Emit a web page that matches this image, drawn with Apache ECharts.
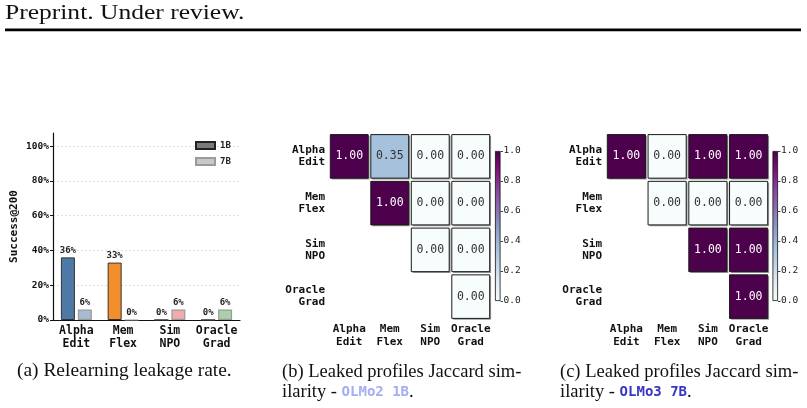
<!DOCTYPE html>
<html><head><meta charset="utf-8">
<script src="https://cdn.jsdelivr.net/npm/echarts@6/dist/echarts.min.js"></script>
<style>html,body{margin:0;padding:0;background:#fff}#c{width:807px;height:408px}</style>
</head><body><div id="c"></div>
<script>
// ---------- data ----------
const barCategories = ['Alpha\nEdit', 'Mem\nFlex', 'Sim\nNPO', 'Oracle\nGrad'];
const success1B = [36, 33, 0, 0];
const success7B = [6, 0, 6, 6];
const colors1B = ['#4e79a7', '#f28e2b', '#e15759', '#59a14f'];
const colors7B = ['#a7bcd3', '#f8c69b', '#f0abac', '#acd0a7'];
const yTicks = [0, 20, 40, 60, 80, 100];
const methods = ['Alpha\nEdit', 'Mem\nFlex', 'Sim\nNPO', 'Oracle\nGrad'];
const jaccardOLMo2_1B = [
  [1.00, 0.35, 0.00, 0.00],
  [null, 1.00, 0.00, 0.00],
  [null, null, 0.00, 0.00],
  [null, null, null, 0.00]
];
const jaccardOLMo3_7B = [
  [1.00, 0.00, 1.00, 1.00],
  [null, 0.00, 0.00, 0.00],
  [null, null, 1.00, 1.00],
  [null, null, null, 1.00]
];
const colorbarTicks = [0, 0.2, 0.4, 0.6, 0.8, 1.0];
const buPu = ['#f7fcfd', '#e0ecf4', '#bfd3e6', '#9ebcda', '#8c96c6', '#8c6bb1', '#88419d', '#810f7c', '#4d004b'];

// ---------- helpers ----------
const MONO = '"DejaVu Sans Mono", monospace';
const SERIF = '"Liberation Serif", "DejaVu Serif", serif';
function toCells(matrix) {
  const out = [];
  matrix.forEach((row, r) => row.forEach((v, c) => { if (v !== null) out.push([c, r, v]); }));
  return out;
}
function cellRender(params, api) {
  const v = api.value(2);
  const c = api.coord([api.value(0), api.value(1)]);
  const s = api.size([1, 1]);
  const w = s[0] - 2.6, h = s[1] - 3.2;
  const x0 = c[0] - w / 2, y0 = c[1] - h / 2;
  return {
    type: 'group',
    children: [
      { type: 'rect', shape: { x: x0 + 1.4, y: y0 + 1.4, width: w, height: h }, style: { fill: '#9a9a9a' } },
      { type: 'rect', shape: { x: x0, y: y0, width: w, height: h }, style: { fill: api.visual('color'), stroke: '#1a1a1a', lineWidth: 1 } },
      { type: 'text', style: { x: c[0], y: c[1], text: v.toFixed(2), align: 'center', verticalAlign: 'middle',
          fill: v > 0.5 ? '#ffffff' : '#333333', font: '11.5px ' + MONO } }
    ]
  };
}
const axisText = { fontFamily: MONO, fontWeight: 'bold', color: '#111' };
function heatAxes(gridIndex) {
  return {
    x: { type: 'category', gridIndex, data: methods, position: 'bottom',
      axisLine: { show: false }, axisTick: { show: false }, splitLine: { show: false },
      axisLabel: Object.assign({ fontSize: 11, lineHeight: 13, margin: 3, interval: 0 }, axisText) },
    y: { type: 'category', gridIndex, data: methods, inverse: true,
      axisLine: { show: false }, axisTick: { show: false }, splitLine: { show: false },
      axisLabel: Object.assign({ fontSize: 11, lineHeight: 12, margin: 4, align: 'right', interval: 0 }, axisText) }
  };
}
function cbAxes(gridIndex) {
  return {
    x: { type: 'category', gridIndex, data: [''], show: false },
    y: { type: 'value', gridIndex, min: 0, max: 1, interval: 0.2, position: 'right',
      axisLine: { show: false }, splitLine: { show: false },
      axisTick: { show: true, length: 2.5, customValues: colorbarTicks, lineStyle: { color: '#111', width: 0.8 } },
      axisLabel: { customValues: colorbarTicks, formatter: v => v.toFixed(1), fontSize: 9.5, margin: 3,
        fontFamily: MONO, color: '#222' } }
  };
}
const cbGradient = { type: 'linear', x: 0, y: 0, x2: 0, y2: 1,
  colorStops: buPu.slice().reverse().map((c, i) => ({ offset: i / (buPu.length - 1), color: c })) };

const hb = heatAxes(1), hc = heatAxes(3), cb1 = cbAxes(2), cb2 = cbAxes(4);

const chart = echarts.init(document.getElementById('c'), null, { renderer: 'canvas' });
chart.setOption({
  animation: false,
  backgroundColor: '#fff',
  grid: [
    { left: 53, top: 133, width: 187, height: 187 },
    { left: 329, top: 133, width: 162, height: 187 },
    { left: 495, top: 151, width: 5.5, height: 150 },
    { left: 606, top: 133, width: 163, height: 187 },
    { left: 772.5, top: 151, width: 5.5, height: 150 }
  ],
  legend: {
    left: 190, top: 136, orient: 'vertical', itemWidth: 19, itemHeight: 7, itemGap: 7,
    data: ['1B', '7B'], icon: 'rect', selectedMode: false,
    textStyle: { fontFamily: MONO, fontWeight: 'bold', fontSize: 9, color: '#222' }
  },
  visualMap: {
    type: 'continuous', show: false, min: 0, max: 1, dimension: 2, seriesIndex: [2, 4],
    inRange: { color: buPu }
  },
  xAxis: [
    { type: 'category', gridIndex: 0, data: barCategories,
      axisLine: { lineStyle: { color: '#111', width: 1.2 } },
      axisTick: { alignWithLabel: true, length: 3, lineStyle: { color: '#111' } },
      axisLabel: Object.assign({ fontSize: 11.5, lineHeight: 12.5, margin: 5, interval: 0 }, axisText) },
    hb.x, cb1.x, hc.x, cb2.x
  ],
  yAxis: [
    { type: 'value', gridIndex: 0, min: 0, max: 107.5, interval: 20,
      name: 'Success@200', nameLocation: 'middle', nameGap: 33,
      nameTextStyle: { fontFamily: MONO, fontWeight: 'bold', fontSize: 11, color: '#111' },
      axisLine: { show: true, lineStyle: { color: '#111', width: 1.2 } },
      axisTick: { show: true, length: 3, customValues: yTicks, lineStyle: { color: '#111' } },
      axisLabel: { customValues: yTicks, formatter: v => v + '%', fontSize: 9.5, margin: 4,
        fontFamily: MONO, fontWeight: 'bold', color: '#111' },
      splitLine: { show: true, lineStyle: { color: '#d9d9d9', type: [2, 2], width: 0.8 } } },
    hb.y, cb1.y, hc.y, cb2.y
  ],
  series: [
    { name: '1B', type: 'bar', xAxisIndex: 0, yAxisIndex: 0, barWidth: 14, barGap: '21%',
      itemStyle: { color: '#7a7a7a', borderColor: '#222', borderWidth: 1 },
      data: success1B.map((v, i) => ({ value: v, itemStyle: { color: colors1B[i], borderColor: '#333' } })),
      label: { show: true, position: 'top', distance: 2, formatter: '{c}%', fontFamily: MONO,
        fontWeight: 'bold', fontSize: 9, color: '#222' } },
    { name: '7B', type: 'bar', xAxisIndex: 0, yAxisIndex: 0, barWidth: 14,
      itemStyle: { color: '#c8c8c8', borderColor: '#9a9a9a', borderWidth: 1.2 },
      data: success7B.map((v, i) => ({ value: v, itemStyle: { color: colors7B[i] } })),
      label: { show: true, position: 'top', distance: 2, formatter: '{c}%', fontFamily: MONO,
        fontWeight: 'bold', fontSize: 9, color: '#222' } },
    { type: 'custom', xAxisIndex: 1, yAxisIndex: 1, renderItem: cellRender,
      encode: { x: 0, y: 1 }, data: toCells(jaccardOLMo2_1B) },
    { type: 'bar', xAxisIndex: 2, yAxisIndex: 2, barWidth: '100%', silent: true, data: [1],
      itemStyle: { color: cbGradient, borderColor: '#111', borderWidth: 0.8 } },
    { type: 'custom', xAxisIndex: 3, yAxisIndex: 3, renderItem: cellRender,
      encode: { x: 0, y: 1 }, data: toCells(jaccardOLMo3_7B) },
    { type: 'bar', xAxisIndex: 4, yAxisIndex: 4, barWidth: '100%', silent: true, data: [1],
      itemStyle: { color: cbGradient, borderColor: '#111', borderWidth: 0.8 } }
  ],
  graphic: [
    { type: 'text', x: 5, y: 2, scaleX: 1.16, style: { text: 'Preprint. Under review.', font: '22px ' + SERIF, fill: '#111' } },
    { type: 'rect', shape: { x: 5, y: 28.5, width: 796, height: 2.8 }, style: { fill: '#000' } },
    { type: 'text', x: 17, y: 362, scaleX: 1.05, style: { text: '(a) Relearning leakage rate.', font: '18.5px ' + SERIF, fill: '#111' } },
    { type: 'text', x: 282, y: 362, scaleX: 1.0, style: {
        text: '(b) Leaked profiles Jaccard sim-\nilarity - {m|OLMo2 1B}.', font: '18.5px ' + SERIF, fill: '#111', lineHeight: 20,
        rich: { m: { fontFamily: MONO, fontWeight: 'bold', fontSize: 14, fill: '#a3adf5', lineHeight: 20 } } } },
    { type: 'text', x: 560, y: 362, scaleX: 1.0, style: {
        text: '(c) Leaked profiles Jaccard sim-\nilarity - {m|OLMo3 7B}.', font: '18.5px ' + SERIF, fill: '#111', lineHeight: 20,
        rich: { m: { fontFamily: MONO, fontWeight: 'bold', fontSize: 14, fill: '#3535c8', lineHeight: 20 } } } }
  ]
});
</script></body></html>
